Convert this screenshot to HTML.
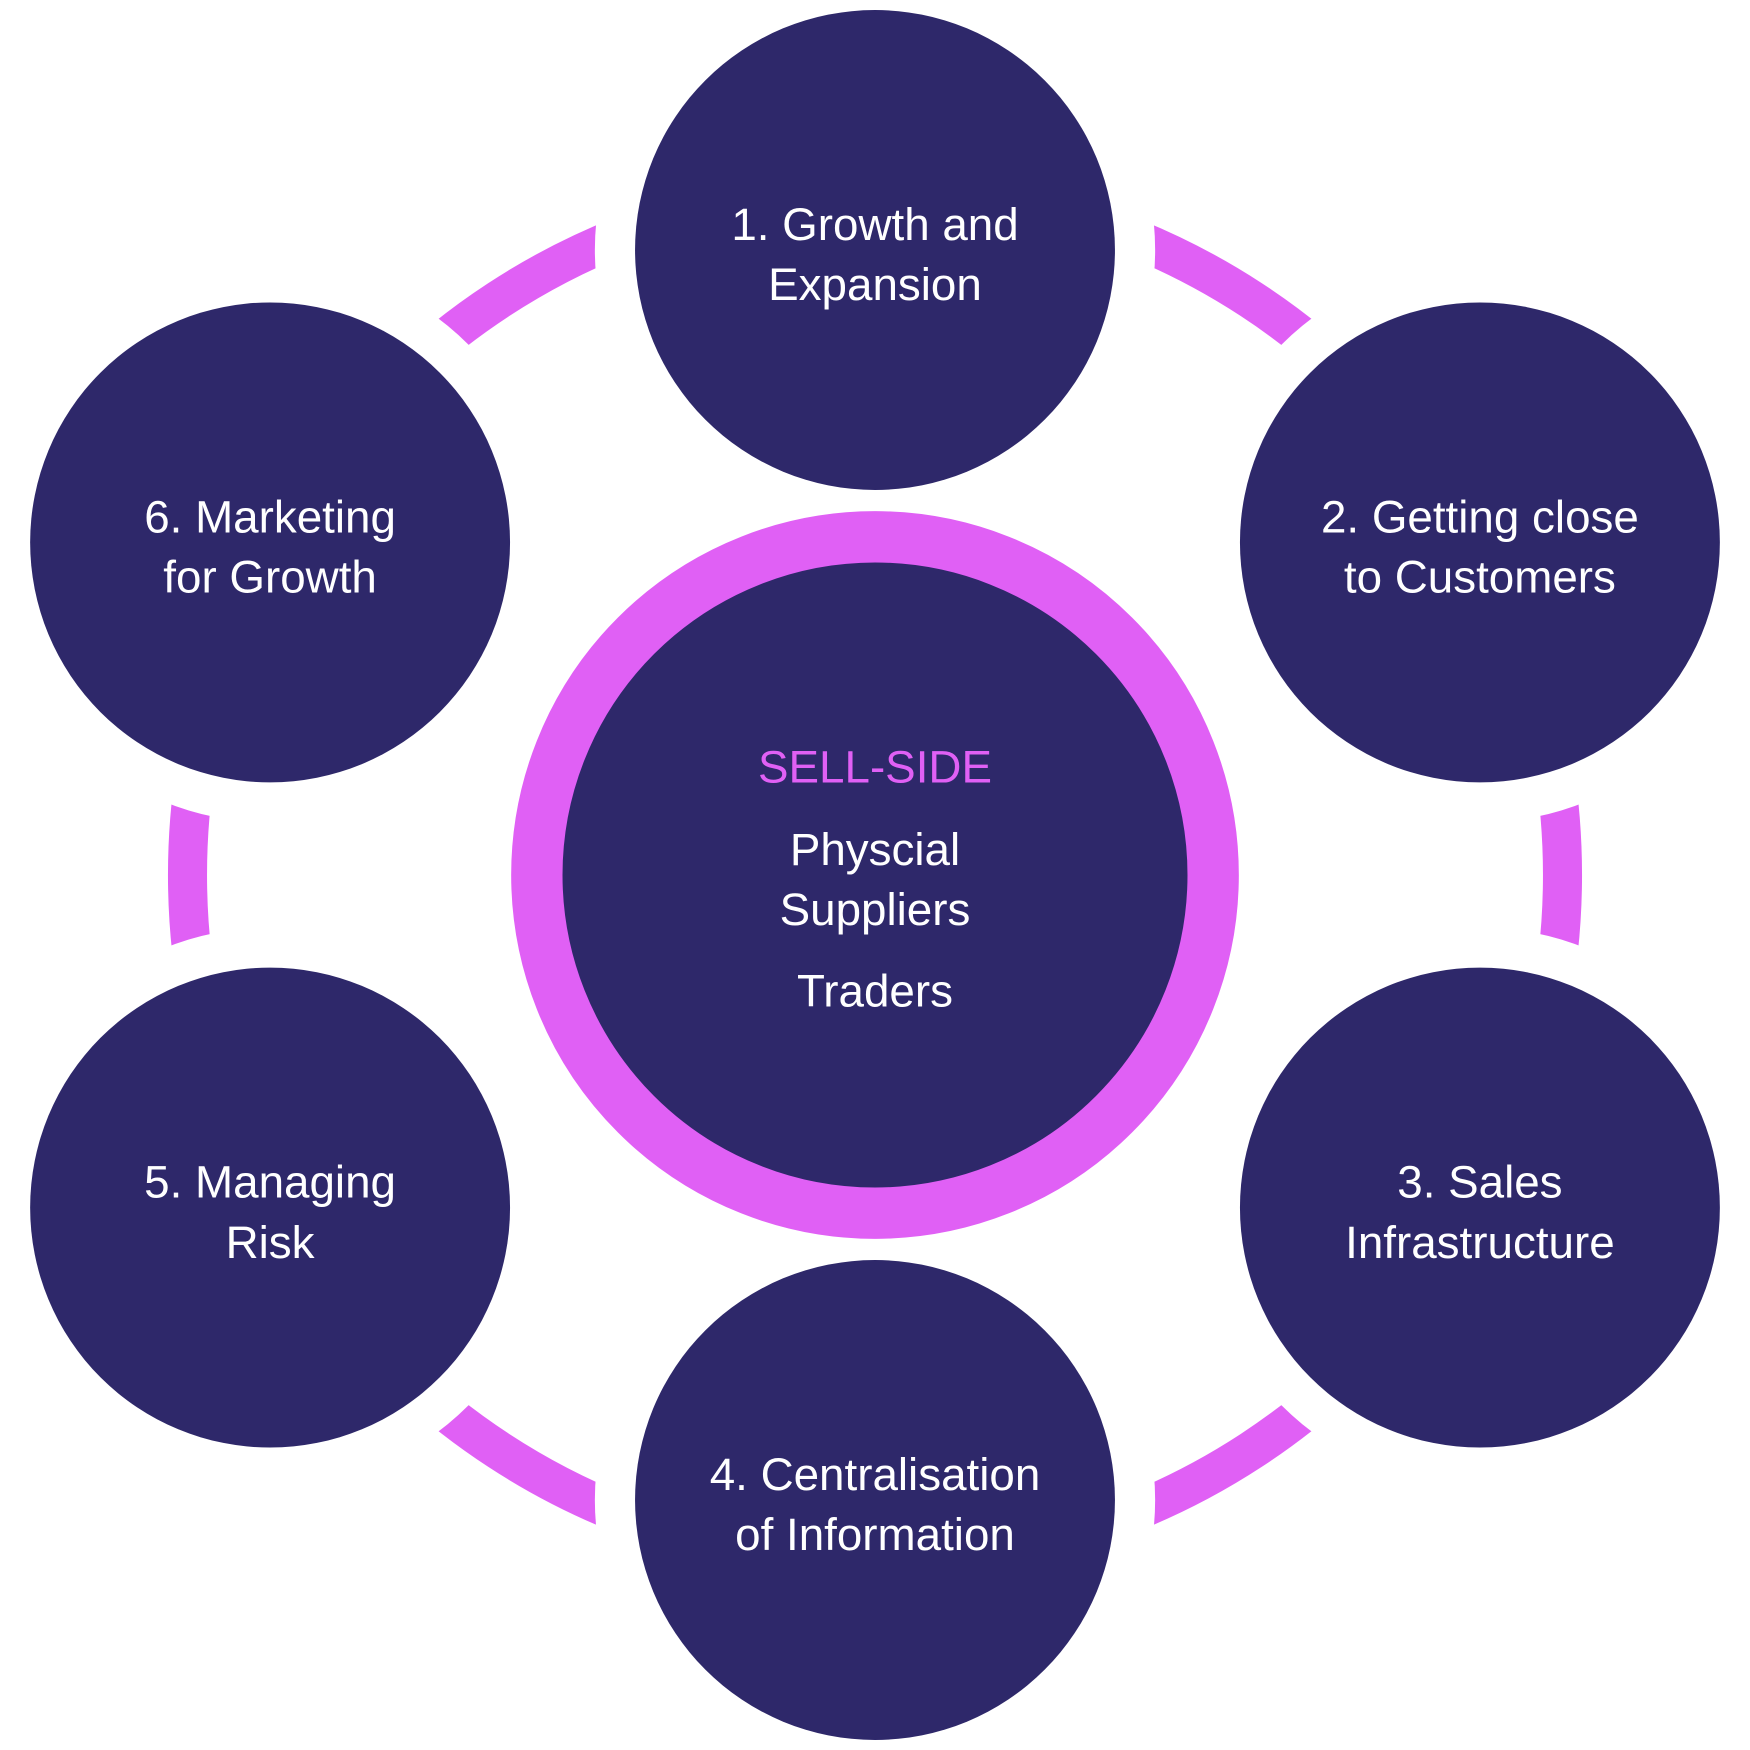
<!DOCTYPE html>
<html><head><meta charset="utf-8"><style>
html,body{margin:0;padding:0;background:#fff;}
svg{display:block;}
text{font-family:"Liberation Sans",sans-serif;fill:#fff;text-anchor:middle;font-size:41px;}
</style></head><body>
<svg width="1750" height="1750" viewBox="0 0 1568 1568" xmlns="http://www.w3.org/2000/svg">
<rect width="1568" height="1568" fill="#fff"/>
<circle cx="784" cy="784" r="616" fill="none" stroke="#E060F5" stroke-width="35"/>
<g fill="#fff">
<circle cx="784" cy="224" r="251"/><circle cx="1326" cy="486" r="251"/><circle cx="1326" cy="1082" r="251"/>
<circle cx="784" cy="1344" r="251"/><circle cx="242" cy="1082" r="251"/><circle cx="242" cy="486" r="251"/>
</g>
<g fill="#2E286A">
<circle cx="784" cy="224" r="215"/><circle cx="1326" cy="486" r="215"/><circle cx="1326" cy="1082" r="215"/>
<circle cx="784" cy="1344" r="215"/><circle cx="242" cy="1082" r="215"/><circle cx="242" cy="486" r="215"/>
<circle cx="784" cy="784" r="303" stroke="#E060F5" stroke-width="46"/>
</g>
<text x="784" y="215">1. Growth and</text><text x="784" y="269">Expansion</text>
<text x="1326" y="477">2. Getting close</text><text x="1326" y="531">to Customers</text>
<text x="1326" y="1073">3. Sales</text><text x="1326" y="1127">Infrastructure</text>
<text x="784" y="1335">4. Centralisation</text><text x="784" y="1389">of Information</text>
<text x="242" y="1073">5. Managing</text><text x="242" y="1127">Risk</text>
<text x="242" y="477">6. Marketing</text><text x="242" y="531">for Growth</text>
<text x="784" y="701" style="fill:#E060F5">SELL-SIDE</text>
<text x="784" y="775">Physcial</text><text x="784" y="829">Suppliers</text>
<text x="784" y="902">Traders</text>
</svg>
</body></html>
